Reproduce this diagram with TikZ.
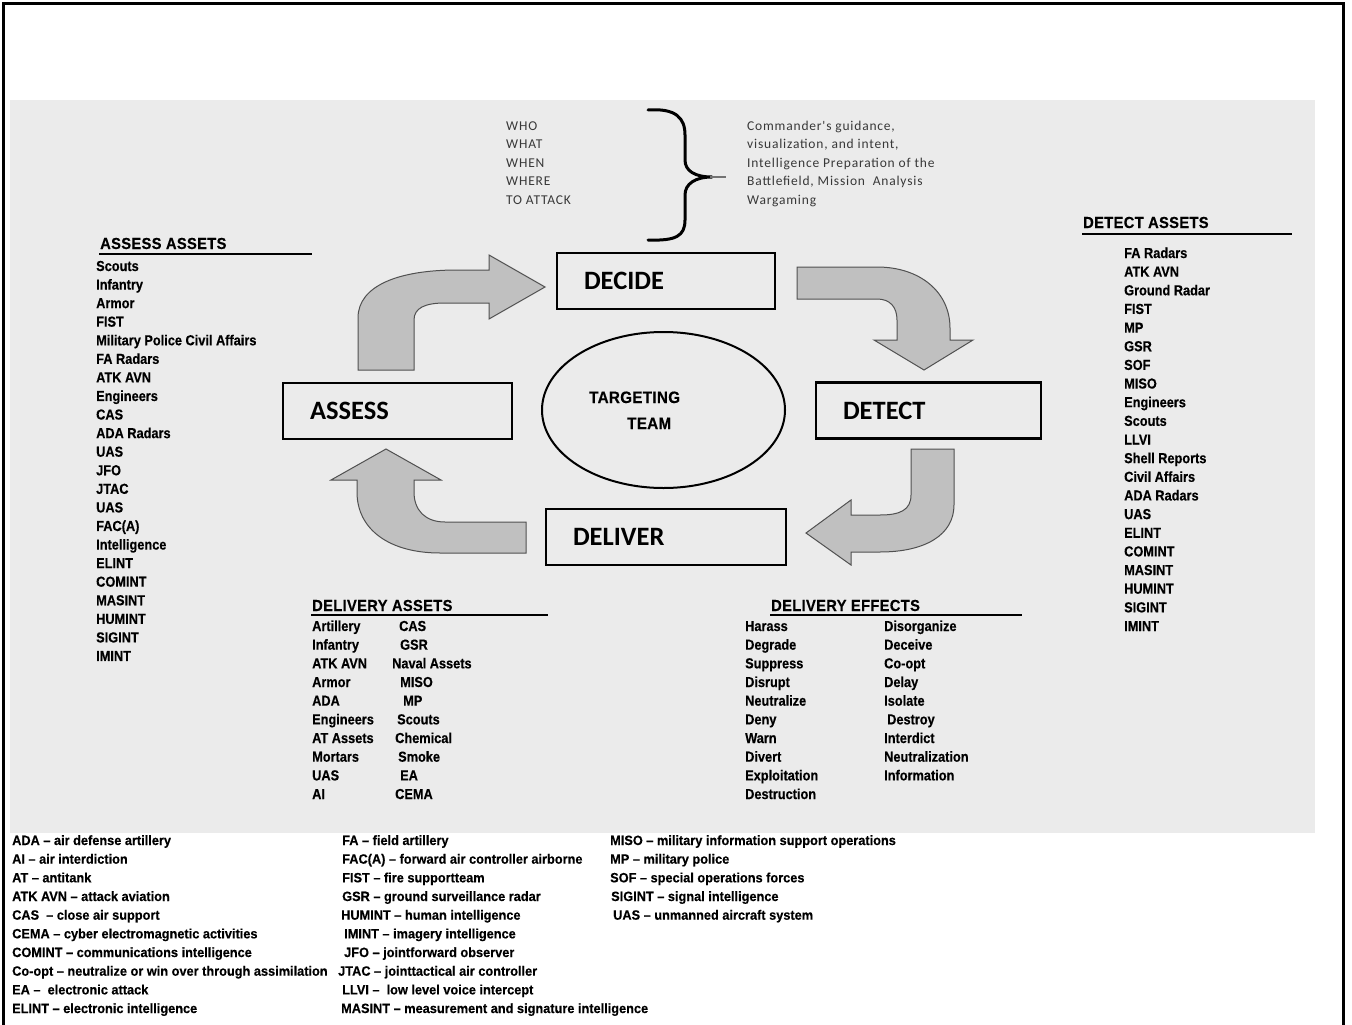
\documentclass[tikz,border=0pt]{standalone}
\usepackage{fontspec}
\setmainfont{Liberation Sans}
\newfontfamily\nbf{Liberation Sans}[FakeStretch=0.88,FakeBold=0.35]
\newfontfamily\hdf{Liberation Sans}[FakeStretch=0.92,FakeBold=0.3,LetterSpace=2]
\newfontfamily\lgf{Liberation Sans}[FakeStretch=0.945,FakeBold=0.35]
\newfontfamily\carl{Carlito}
\newfontfamily\carlsp{Carlito}[LetterSpace=6]
\usetikzlibrary{shapes.geometric}
\definecolor{bggray}{RGB}{235,235,235}
\definecolor{arrowgray}{RGB}{192,192,192}
\definecolor{arrowline}{RGB}{80,80,80}
\begin{document}
\begin{tikzpicture}[x=1pt,y=-1pt,
 list/.style={font=\nbf\bfseries\fontsize{14.5}{17}\selectfont, anchor=base west, inner sep=0},
 head/.style={font=\hdf\bfseries\fontsize{16}{19}\selectfont, anchor=base west, inner sep=0},
 legend/.style={font=\lgf\bfseries\fontsize{13.5}{16}\selectfont, anchor=base west, inner sep=0},
 bracetext/.style={font=\carlsp\fontsize{13.5}{16}\selectfont, text=black!78, anchor=base west, inner sep=0},
 stage/.style={draw, line width=2.5pt, font=\carl\bfseries\fontsize{26.5}{30}\selectfont, align=left, inner xsep=27pt, inner ysep=0pt, minimum height=56pt, anchor=center},
 blockarrow/.style={fill=arrowgray, draw=arrowline, line width=1pt, line join=miter}
]
\useasboundingbox (0,0) rectangle (1352,1025);
\fill[white] (0,0) rectangle (1352,1025);
\fill[bggray] (10,100) rectangle (1315,833);
\draw[line width=3pt] (3.5,1025) -- (3.5,3.5) -- (1343.5,3.5) -- (1343.5,1025);

% brace and its texts
\foreach \t [count=\i from 0] in {WHO, WHAT, WHEN, WHERE, TO ATTACK}
  \node[bracetext] (w\i) at (506, {130+\i*18.5}) {\t};
\foreach \t [count=\i from 0] in {{Commander's guidance,}, {visualization, and intent,}, {Intelligence Preparation of the}, {Battlefield, Mission\ \ Analysis}, {Wargaming}}
  \node[bracetext] (c\i) at (747, {130+\i*18.5}) {\t};
\draw[line width=3pt, line cap=round, line join=round]
  (648,110) .. controls (676,108) and (685,118) .. (685,135) -- (685,160)
  .. controls (685,171) and (695,177) .. (712,177)
  .. controls (695,177) and (685,184) .. (685,195) -- (685,220)
  .. controls (685,236) and (676,241) .. (648,240);
\draw[black!55, line width=1.2pt] (710,177) -- (726,177);

% stage boxes
\node[stage, text width=164pt] (decide) at (666,281) {DECIDE};
\node[stage, text width=175pt] (assess) at (397.5,411) {ASSESS};
\node[stage, text width=186pt] (deliver) at (666,537) {DELIVER};
\node[stage, text width=171pt] (detect) at (928.5,410.5) {DETECT};
\node[ellipse, draw, line width=2pt, minimum width=243pt, minimum height=156pt, inner sep=0] (team) at (663.5,410) {};
\node[head, font=\hdf\bfseries\fontsize{16.5}{20}\selectfont] (team1) at (589,403) {TARGETING};
\node[head, font=\hdf\bfseries\fontsize{16.5}{20}\selectfont] (team2) at (627,429) {TEAM};

% bent block arrows
\draw[blockarrow] (358,370) -- (358,318) .. controls (358,285) and (400,270) .. (457,270)
  -- (489,270) -- (489,255) -- (545,287) -- (489,319) -- (489,303) -- (445,303)
  .. controls (425,303) and (414,308) .. (414,320) -- (414,370) -- cycle;
\draw[blockarrow] (797,267) -- (877,267) .. controls (920,267) and (950,292) .. (950,328)
  -- (950,340) -- (973,340) -- (924,370) -- (874,340) -- (897,340) -- (897,320)
  .. controls (897,307) and (890,299) .. (877,299) -- (797,299) -- cycle;
\draw[blockarrow] (911,449) -- (954,449) -- (954,505) .. controls (954,535) and (925,552) .. (880,552)
  -- (851,552) -- (851,565) -- (806,533) -- (851,500) -- (851,515) -- (880,515)
  .. controls (900,515) and (911,510) .. (911,495) -- cycle;
\draw[blockarrow] (526,522) -- (526,553) -- (440,553) .. controls (390,553) and (357,530) .. (357,492)
  -- (357,480) -- (331,480) -- (386,449) -- (441,480) -- (414,480) -- (414,492)
  .. controls (414,510) and (425,522) .. (445,522) -- cycle;

% assess assets
\node[head] (ahead) at (100,249) {ASSESS ASSETS};
\draw[line width=1.4pt] (99,254) -- (312,254);
\foreach \t [count=\i from 0] in {Scouts, Infantry, Armor, FIST, Military Police Civil Affairs, FA Radars, ATK AVN, Engineers, CAS, ADA Radars, UAS, JFO, JTAC, UAS, FAC(A), Intelligence, ELINT, COMINT, MASINT, HUMINT, SIGINT, IMINT}
  \node[list] (as\i) at (96, {271+\i*18.57}) {\t};

% detect assets
\node[head] (dhead) at (1083,228) {DETECT ASSETS};
\draw[line width=2.4pt] (1082,234) -- (1292,234);
\foreach \t [count=\i from 0] in {FA Radars, ATK AVN, Ground Radar, FIST, MP, GSR, SOF, MISO, Engineers, Scouts, LLVI, Shell Reports, Civil Affairs, ADA Radars, UAS, ELINT, COMINT, MASINT, HUMINT, SIGINT, IMINT}
  \node[list] (ds\i) at (1124, {258+\i*18.65}) {\t};

% delivery assets
\node[head] (vhead) at (312,611) {DELIVERY ASSETS};
\draw[line width=2pt] (311,615) -- (548,615);
\foreach \t [count=\i from 0] in {Artillery, Infantry, ATK AVN, Armor, ADA, Engineers, AT Assets, Mortars, UAS, AI}
  \node[list] (va\i) at (312, {631+\i*18.67}) {\t};
\foreach \t/\x [count=\i from 0] in {CAS/399, GSR/400, Naval Assets/392, MISO/400, MP/403, Scouts/397, Chemical/395, Smoke/398, EA/400, CEMA/395}
  \node[list] (vb\i) at (\x, {631+\i*18.67}) {\t};

% delivery effects
\node[head] (ehead) at (771,611) {DELIVERY EFFECTS};
\draw[line width=2pt] (770,615) -- (1022,615);
\foreach \t [count=\i from 0] in {Harass, Degrade, Suppress, Disrupt, Neutralize, Deny, Warn, Divert, Exploitation, Destruction}
  \node[list] (ea\i) at (745, {631+\i*18.67}) {\t};
\foreach \t/\x [count=\i from 0] in {Disorganize/884, Deceive/884, Co-opt/884, Delay/884, Isolate/884, Destroy/887, Interdict/884, Neutralization/884, Information/884}
  \node[list] (eb\i) at (\x, {631+\i*18.67}) {\t};

% legend
\foreach \t [count=\i from 0] in {ADA – air defense artillery, AI – air interdiction, AT – antitank, ATK AVN – attack aviation, CAS\ \ – close air support, CEMA – cyber electromagnetic activities, COMINT – communications intelligence, Co-opt – neutralize or win over through assimilation, EA –\ \ electronic attack, ELINT – electronic intelligence}
  \node[legend] (la\i) at (12, {845+\i*18.67}) {\t};
\foreach \t/\x [count=\i from 0] in {FA – field artillery/342, FAC(A) – forward air controller airborne/342, FIST – fire supportteam/342, GSR – ground surveillance radar/342, HUMINT – human intelligence/341, IMINT – imagery intelligence/344, JFO – jointforward observer/344, JTAC – jointtactical air controller/338, LLVI –\ \ low level voice intercept/342, MASINT – measurement and signature intelligence/341}
  \node[legend] (lb\i) at (\x, {845+\i*18.67}) {\t};
\foreach \t/\x [count=\i from 0] in {MISO – military information support operations/610, MP – military police/610, SOF – special operations forces/610, SIGINT – signal intelligence/611, UAS – unmanned aircraft system/613}
  \node[legend] (lc\i) at (\x, {845+\i*18.67}) {\t};
\end{tikzpicture}
\end{document}
